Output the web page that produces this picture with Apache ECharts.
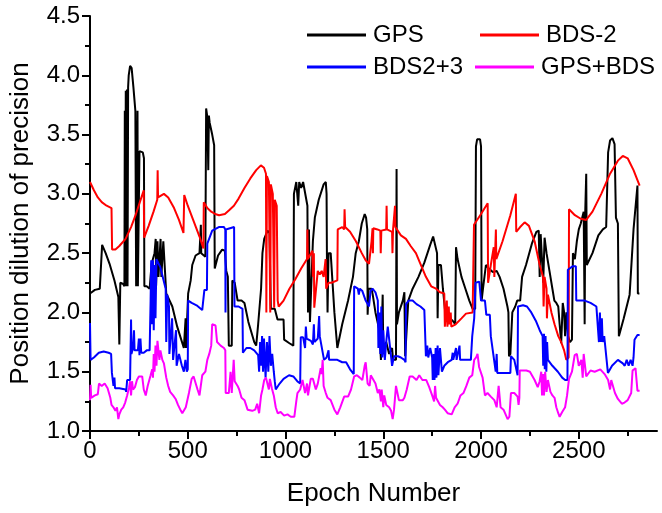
<!DOCTYPE html>
<html>
<head>
<meta charset="utf-8">
<script src="https://cdn.jsdelivr.net/npm/echarts@6.0.0/dist/echarts.min.js"></script>
<style>
html,body{margin:0;padding:0;background:#fff;}
#chart{width:662px;height:513px;}
</style>
</head>
<body>
<div id="chart"></div>
<script>
const seriesNames = ['GPS', 'BDS-2', 'BDS2+3', 'GPS+BDS'];
const xTickLabels = [0, 500, 1000, 1500, 2000, 2500];
const xMinorTicks = [250, 750, 1250, 1750, 2250, 2750];

const gps = [[0,2.16],[25,2.19],[50,2.2],[62,2.57],[80,2.5],[100,2.41],[125,2.27],[145,2.13],[150,1.73],[155,2.25],[170,2.24],[176,2.22],[178,3.7],[180,2.22],[183,3.87],[186,2.22],[189,3.88],[192,2.22],[195,3.9],[198,4.0],[205,4.08],[213,4.06],[222,3.9],[232,3.7],[236,2.22],[240,2.22],[243,3.7],[245,2.22],[252,2.22],[253,3.36],[270,3.35],[276,3.3],[278,2.22],[290,2.22],[305,2.2],[315,2.41],[330,2.5],[336,2.62],[338,2.22],[345,2.6],[350,2.3],[361,2.62],[365,2.3],[375,2.6],[385,2.6],[390,2.16],[421,2.05],[446,1.88],[480,1.7],[488,1.7],[489,1.95],[491,1.7],[500,1.7],[502,2.16],[515,2.27],[523,2.4],[540,2.48],[560,2.5],[566,2.5],[567,2.74],[569,2.5],[590,2.47],[594,3.72],[600,3.65],[605,3.2],[608,3.66],[612,3.6],[625,3.5],[635,3.41],[638,2.37],[655,2.48],[676,2.53],[690,2.52],[697,2.35],[705,2.3],[710,1.72],[725,1.72],[728,2.27],[740,2.25],[755,2.1],[775,2.1],[790,2.08],[810,1.92],[840,1.75],[850,1.72],[860,1.9],[875,2.2],[882,2.5],[891,2.62],[908,2.69],[918,2.67],[922,2.3],[925,2.03],[945,2.03],[959,1.94],[990,1.94],[993,1.77],[1020,1.74],[1040,1.72],[1043,3.0],[1055,3.1],[1061,3.1],[1065,2.9],[1070,3.1],[1080,3.05],[1090,3.1],[1100,3.1],[1112,2.9],[1115,2.0],[1120,2.7],[1125,1.92],[1140,2.6],[1150,2.8],[1170,2.95],[1195,3.08],[1206,3.1],[1210,3.0],[1212,2.4],[1215,2.0],[1220,2.5],[1231,2.5],[1250,2.0],[1265,1.7],[1290,1.9],[1320,2.1],[1345,2.3],[1359,2.5],[1375,2.6],[1390,2.75],[1405,2.83],[1412,2.8],[1418,2.7],[1420,1.98],[1425,2.2],[1440,2.2],[1446,2.15],[1460,2.0],[1480,1.85],[1488,1.6],[1495,1.6],[1497,2.15],[1500,1.65],[1515,1.75],[1530,1.65],[1545,1.7],[1550,1.6],[1565,1.6],[1568,3.21],[1570,1.9],[1580,2.0],[1600,2.1],[1608,2.17],[1612,1.63],[1622,1.63],[1628,2.1],[1650,2.2],[1680,2.3],[1710,2.42],[1740,2.57],[1755,2.64],[1765,2.63],[1775,2.5],[1778,1.95],[1782,2.4],[1795,2.4],[1805,2.2],[1820,1.95],[1840,1.95],[1855,1.93],[1868,1.9],[1872,2.55],[1880,2.45],[1900,2.3],[1920,2.2],[1940,2.1],[1957,2.03],[1970,2.03],[1974,3.4],[1980,3.46],[1995,3.46],[2000,3.4],[2003,2.1],[2010,2.2],[2025,2.4],[2040,2.37],[2060,2.34],[2080,2.35],[2095,2.3],[2115,2.2],[2135,2.05],[2140,2.0],[2143,1.63],[2150,1.65],[2160,2.0],[2175,2.05],[2185,2.1],[2200,2.1],[2210,2.3],[2230,2.4],[2260,2.58],[2283,2.68],[2295,2.69],[2300,2.3],[2305,2.66],[2315,2.65],[2318,2.25],[2325,2.63],[2335,2.5],[2350,2.35],[2365,2.2],[2375,2.1],[2385,2.08],[2395,2.05],[2402,1.9],[2410,1.74],[2418,2.08],[2425,2.0],[2430,1.8],[2437,2.0],[2445,1.8],[2455,1.75],[2465,1.77],[2470,2.5],[2480,2.45],[2490,2.6],[2500,2.7],[2510,2.75],[2525,2.85],[2530,1.9],[2533,2.85],[2538,3.17],[2541,2.4],[2550,2.4],[2570,2.5],[2600,2.65],[2623,2.7],[2640,2.72],[2650,3.35],[2660,3.45],[2672,3.47],[2683,3.42],[2690,2.8],[2700,2.75],[2705,1.8],[2730,1.95],[2760,2.15],[2780,2.7],[2800,3.07],[2802,2.16],[2810,2.16]];

const bds2 = [[0,3.1],[20,3.03],[40,2.97],[60,2.93],[85,2.9],[110,2.88],[113,2.53],[130,2.53],[150,2.56],[182,2.62],[210,2.72],[233,2.82],[255,2.93],[275,3.03],[277,2.63],[300,2.73],[325,2.85],[344,2.95],[346,3.2],[348,2.97],[378,3.0],[400,2.97],[430,2.88],[455,2.78],[478,2.67],[480,2.66],[482,2.99],[500,2.9],[530,2.77],[560,2.64],[580,2.54],[582,2.93],[600,2.88],[620,2.85],[640,2.83],[660,2.82],[690,2.83],[710,2.86],[736,2.9],[760,2.96],[790,3.05],[820,3.13],[850,3.2],[874,3.24],[890,3.22],[900,3.17],[902,2.0],[905,3.15],[915,3.1],[922,2.0],[925,3.08],[935,3.0],[942,2.04],[945,2.95],[955,2.9],[960,2.1],[965,2.05],[990,2.1],[1020,2.2],[1050,2.28],[1080,2.37],[1110,2.45],[1112,2.7],[1114,2.45],[1138,2.52],[1140,2.3],[1145,2.5],[1147,2.04],[1165,2.35],[1175,2.32],[1185,2.35],[1195,2.3],[1205,2.45],[1208,2.2],[1220,2.25],[1235,2.25],[1265,2.27],[1267,2.7],[1290,2.72],[1300,2.7],[1302,2.87],[1305,2.72],[1330,2.68],[1360,2.6],[1390,2.5],[1410,2.44],[1427,2.41],[1440,2.6],[1445,2.71],[1447,2.5],[1449,2.71],[1470,2.7],[1485,2.69],[1487,2.5],[1490,2.69],[1515,2.7],[1517,2.9],[1519,2.7],[1545,2.68],[1547,2.5],[1550,2.7],[1560,2.9],[1562,2.72],[1590,2.65],[1616,2.62],[1640,2.56],[1667,2.5],[1690,2.41],[1718,2.3],[1745,2.22],[1770,2.2],[1790,2.17],[1812,2.16],[1815,1.88],[1825,2.1],[1828,1.88],[1835,2.05],[1838,1.9],[1845,2.0],[1848,1.88],[1870,1.9],[1900,1.95],[1923,1.99],[1957,2.0],[1962,2.0],[1964,2.74],[2000,2.83],[2034,2.92],[2036,2.25],[2050,2.4],[2065,2.55],[2068,2.3],[2076,2.7],[2078,2.45],[2110,2.6],[2150,2.82],[2178,3.0],[2180,2.68],[2200,2.72],[2223,2.76],[2245,2.73],[2274,2.6],[2300,2.4],[2317,2.3],[2320,2.05],[2325,2.3],[2335,2.2],[2337,1.95],[2342,2.15],[2360,2.0],[2376,1.9],[2395,1.8],[2410,1.75],[2425,1.68],[2436,1.6],[2448,1.62],[2450,2.87],[2480,2.82],[2510,2.79],[2538,2.78],[2570,2.85],[2615,3.0],[2660,3.17],[2700,3.28],[2725,3.32],[2750,3.3],[2780,3.2],[2811,3.07]];

const bds23 = [[0,1.91],[3,1.6],[20,1.62],[45,1.66],[70,1.67],[95,1.66],[108,1.65],[112,1.49],[118,1.49],[120,1.38],[125,1.45],[128,1.36],[150,1.36],[182,1.35],[185,1.33],[190,1.43],[205,1.43],[208,1.42],[210,1.94],[212,1.65],[220,1.7],[225,1.85],[228,1.68],[245,1.68],[250,1.78],[253,1.64],[258,1.78],[262,1.66],[275,1.66],[290,1.68],[305,1.68],[310,2.1],[313,2.44],[317,1.9],[322,2.44],[326,1.85],[331,2.4],[335,1.95],[340,2.45],[350,2.44],[360,2.38],[375,2.28],[387,2.2],[390,1.75],[395,2.15],[404,2.05],[406,1.65],[420,1.95],[425,1.6],[440,1.85],[443,1.55],[455,1.65],[470,1.55],[480,1.5],[488,1.6],[495,1.5],[500,1.52],[502,2.1],[520,2.08],[545,2.06],[574,2.02],[583,2.02],[585,2.19],[598,2.19],[600,2.58],[625,2.69],[659,2.72],[685,2.72],[692,2.7],[693,2.0],[695,2.7],[737,2.72],[739,2.05],[760,2.05],[780,2.03],[782,1.66],[800,1.7],[820,1.7],[840,1.68],[860,1.64],[865,1.5],[870,1.75],[875,1.55],[880,1.8],[885,1.5],[890,1.78],[898,1.45],[905,1.75],[912,1.5],[918,1.8],[925,1.55],[932,1.65],[940,1.5],[945,1.42],[950,1.35],[970,1.4],[990,1.44],[1018,1.47],[1040,1.46],[1060,1.42],[1075,1.4],[1078,1.79],[1090,1.79],[1100,1.7],[1104,1.88],[1108,1.78],[1130,1.76],[1140,1.73],[1145,1.9],[1148,1.75],[1165,1.78],[1172,1.97],[1175,1.8],[1185,1.8],[1197,1.6],[1210,1.62],[1220,1.68],[1223,1.6],[1245,1.6],[1265,1.6],[1290,1.58],[1310,1.58],[1330,1.52],[1349,1.48],[1351,2.22],[1370,2.2],[1375,2.15],[1380,2.2],[1393,2.18],[1410,2.1],[1427,2.05],[1435,2.18],[1445,2.2],[1460,2.17],[1472,2.1],[1475,1.7],[1480,2.0],[1485,1.65],[1490,2.05],[1495,1.62],[1500,1.85],[1508,1.6],[1515,1.75],[1523,1.88],[1535,1.7],[1545,1.55],[1548,1.55],[1555,1.63],[1575,1.63],[1590,1.62],[1608,1.6],[1614,1.58],[1616,2.07],[1630,2.1],[1650,2.1],[1670,2.07],[1690,2.05],[1710,2.02],[1716,2.02],[1718,1.63],[1725,1.72],[1730,1.62],[1740,1.7],[1750,1.62],[1753,1.43],[1758,1.65],[1762,1.43],[1768,1.7],[1772,1.45],[1778,1.72],[1782,1.47],[1790,1.7],[1800,1.5],[1812,1.55],[1830,1.58],[1850,1.6],[1855,1.66],[1858,1.6],[1872,1.7],[1875,1.6],[1890,1.72],[1893,1.6],[1910,1.6],[1935,1.6],[1948,1.6],[1955,1.8],[1965,1.95],[1972,2.25],[1991,2.26],[2000,2.1],[2020,2.1],[2025,2.1],[2027,1.98],[2045,1.98],[2050,1.8],[2060,1.8],[2075,1.5],[2080,1.65],[2083,1.49],[2110,1.49],[2150,1.49],[2153,1.63],[2170,1.6],[2187,1.47],[2189,2.05],[2215,2.06],[2235,2.05],[2257,2.0],[2280,1.93],[2300,1.85],[2315,1.8],[2318,1.55],[2322,1.82],[2326,1.52],[2330,1.8],[2334,1.5],[2338,1.75],[2342,1.6],[2365,1.55],[2393,1.5],[2415,1.45],[2430,1.43],[2442,1.43],[2444,2.36],[2470,2.39],[2485,2.39],[2487,2.1],[2510,2.1],[2530,2.1],[2560,2.08],[2590,2.05],[2600,2.05],[2603,1.75],[2608,2.0],[2612,1.75],[2618,1.95],[2622,1.75],[2630,1.8],[2649,1.49],[2670,1.55],[2700,1.6],[2725,1.57],[2735,1.55],[2745,1.6],[2755,1.55],[2765,1.6],[2775,1.55],[2780,1.62],[2785,1.77],[2800,1.81],[2811,1.81]];

const gpsBds = [[0,1.26],[3,1.39],[6,1.28],[25,1.3],[40,1.31],[46,1.4],[60,1.38],[75,1.4],[90,1.36],[97,1.32],[104,1.28],[110,1.22],[120,1.2],[130,1.17],[138,1.2],[145,1.1],[150,1.14],[160,1.18],[170,1.2],[180,1.24],[190,1.3],[200,1.37],[205,1.42],[210,1.3],[215,1.42],[220,1.35],[230,1.37],[240,1.43],[250,1.46],[260,1.45],[267,1.46],[275,1.35],[285,1.3],[295,1.38],[310,1.47],[318,1.52],[322,1.45],[326,1.65],[330,1.5],[335,1.72],[340,1.55],[345,1.76],[350,1.77],[355,1.6],[360,1.68],[370,1.6],[378,1.57],[390,1.45],[400,1.38],[410,1.33],[425,1.3],[438,1.27],[450,1.22],[465,1.17],[472,1.15],[490,1.2],[506,1.32],[520,1.44],[530,1.46],[540,1.46],[550,1.35],[560,1.3],[574,1.47],[590,1.5],[600,1.6],[610,1.65],[620,1.72],[625,1.9],[642,1.89],[650,1.75],[668,1.72],[685,1.7],[692,1.68],[694,1.32],[710,1.32],[719,1.5],[725,1.32],[733,1.32],[735,1.6],[740,1.42],[755,1.38],[763,1.35],[775,1.28],[790,1.26],[806,1.18],[830,1.17],[845,1.18],[855,1.23],[865,1.15],[875,1.3],[882,1.35],[891,1.43],[900,1.45],[908,1.46],[915,1.35],[920,1.44],[930,1.36],[940,1.3],[950,1.2],[960,1.15],[975,1.16],[993,1.13],[1010,1.14],[1027,1.12],[1045,1.12],[1055,1.25],[1061,1.32],[1075,1.35],[1087,1.43],[1100,1.32],[1110,1.4],[1115,1.3],[1129,1.44],[1140,1.44],[1155,1.35],[1165,1.4],[1180,1.53],[1185,1.48],[1190,1.6],[1195,1.38],[1206,1.32],[1215,1.28],[1231,1.26],[1250,1.18],[1265,1.14],[1280,1.2],[1300,1.29],[1320,1.29],[1335,1.35],[1351,1.46],[1365,1.47],[1380,1.45],[1393,1.43],[1405,1.55],[1410,1.58],[1420,1.4],[1430,1.38],[1436,1.47],[1446,1.46],[1460,1.4],[1472,1.32],[1480,1.35],[1488,1.25],[1492,1.35],[1500,1.2],[1505,1.3],[1515,1.22],[1530,1.2],[1540,1.17],[1548,1.1],[1555,1.18],[1565,1.38],[1580,1.26],[1600,1.26],[1608,1.28],[1620,1.35],[1635,1.46],[1650,1.46],[1670,1.43],[1684,1.47],[1700,1.43],[1720,1.43],[1735,1.37],[1750,1.3],[1760,1.25],[1765,1.38],[1770,1.28],[1790,1.22],[1804,1.2],[1815,1.18],[1829,1.15],[1850,1.14],[1865,1.2],[1880,1.23],[1895,1.3],[1910,1.32],[1925,1.38],[1940,1.45],[1955,1.47],[1965,1.6],[1975,1.62],[1982,1.65],[1990,1.54],[2000,1.53],[2008,1.45],[2020,1.3],[2033,1.32],[2050,1.29],[2068,1.26],[2080,1.2],[2090,1.38],[2100,1.2],[2115,1.18],[2136,1.1],[2145,1.12],[2153,1.32],[2170,1.32],[2187,1.29],[2192,1.22],[2196,1.28],[2198,1.51],[2215,1.51],[2232,1.51],[2250,1.5],[2274,1.43],[2290,1.37],[2300,1.42],[2308,1.5],[2312,1.3],[2318,1.48],[2322,1.3],[2328,1.5],[2335,1.33],[2342,1.43],[2355,1.33],[2365,1.3],[2376,1.28],[2385,1.2],[2395,1.15],[2402,1.12],[2415,1.16],[2430,1.2],[2440,1.3],[2450,1.44],[2465,1.5],[2479,1.64],[2490,1.65],[2500,1.55],[2513,1.6],[2520,1.45],[2525,1.65],[2538,1.46],[2560,1.51],[2581,1.5],[2610,1.52],[2632,1.48],[2650,1.43],[2660,1.35],[2666,1.43],[2685,1.32],[2700,1.27],[2720,1.23],[2734,1.24],[2750,1.26],[2768,1.32],[2775,1.51],[2790,1.53],[2794,1.53],[2800,1.34],[2811,1.34]];

const colors = ['#000000', '#ff0000', '#0000ff', '#ff00ff'];
const seriesData = [gps, bds2, bds23, gpsBds];

const FONT = 'Liberation Sans, Arial, sans-serif';
const chart = echarts.init(document.getElementById('chart'), null, {renderer: 'canvas'});

const legendPos = [
  {left: 307, top: 23},
  {left: 480, top: 23},
  {left: 307, top: 55},
  {left: 475, top: 55}
];

const option = {
  animation: false,
  backgroundColor: '#ffffff',
  grid: {left: 90, right: 5, top: 16, bottom: 82, containLabel: false},
  legend: seriesNames.map((n, i) => ({
    data: [{name: n, icon: 'rect'}],
    left: legendPos[i].left,
    top: legendPos[i].top,
    padding: 0,
    itemWidth: 59,
    itemHeight: 3,
    selectedMode: false,
    textStyle: {fontSize: 24, color: '#000', fontFamily: FONT, padding: [0, 0, 0, 2]}
  })),
  xAxis: [{
    type: 'value',
    min: 0, max: 2900, interval: 500,
    name: 'Epoch Number',
    nameLocation: 'middle',
    nameGap: 50,
    nameTextStyle: {fontSize: 26, color: '#000', fontFamily: FONT},
    axisLine: {show: true, onZero: false, lineStyle: {color: '#000', width: 2}},
    axisTick: {show: true, length: 8, lineStyle: {color: '#000', width: 2}, customValues: xTickLabels},
    axisLabel: {fontSize: 24, color: '#000', fontFamily: FONT, margin: 8, customValues: xTickLabels, formatter: v => String(v)},
    splitLine: {show: false}
  }, {
    type: 'value',
    min: 0, max: 2900, interval: 250,
    position: 'bottom',
    axisLine: {show: false, onZero: false},
    axisTick: {show: true, length: 5, lineStyle: {color: '#000', width: 2}, customValues: xMinorTicks},
    axisLabel: {show: false},
    splitLine: {show: false}
  }],
  yAxis: {
    type: 'value',
    min: 1, max: 4.5, interval: 0.5,
    name: 'Position dilution of precision',
    nameLocation: 'middle',
    nameGap: 56,
    nameTextStyle: {fontSize: 26, color: '#000', fontFamily: FONT},
    axisLine: {show: true, lineStyle: {color: '#000', width: 2}},
    axisTick: {show: true, length: 8, lineStyle: {color: '#000', width: 2}},
    minorTick: {show: true, splitNumber: 2, length: 5, lineStyle: {color: '#000', width: 2}},
    axisLabel: {fontSize: 24, color: '#000', fontFamily: FONT, margin: 10, formatter: v => v.toFixed(1)},
    splitLine: {show: false},
    minorSplitLine: {show: false}
  },
  series: seriesNames.map((n, i) => ({
    name: n,
    type: 'line',
    xAxisIndex: 0,
    data: seriesData[i],
    symbol: 'none',
    showSymbol: false,
    sampling: null,
    lineStyle: {color: colors[i], width: 2},
    itemStyle: {color: colors[i]},
    emphasis: {disabled: true}
  }))
};
chart.setOption(option);
</script>
</body>
</html>
